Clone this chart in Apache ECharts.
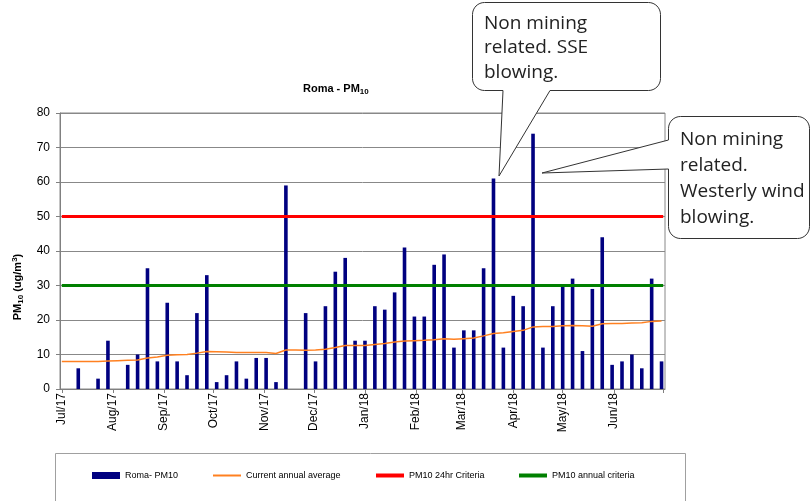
<!DOCTYPE html>
<html>
<head>
<meta charset="utf-8">
<script src="https://cdn.jsdelivr.net/npm/echarts@6/dist/echarts.min.js"></script>
<style>
html,body{margin:0;padding:0;background:#fff;}
#c{width:811px;height:501px;}
</style>
</head>
<body>
<div id="c"></div>
<script>
// ---- data ----
const sampleDates = [
  '2017-07-11','2017-07-17','2017-07-23','2017-07-29',
  '2017-08-04','2017-08-10','2017-08-16','2017-08-22','2017-08-28',
  '2017-09-03','2017-09-09','2017-09-15','2017-09-21','2017-09-27',
  '2017-10-03','2017-10-09','2017-10-15','2017-10-21','2017-10-27',
  '2017-11-02','2017-11-08','2017-11-14','2017-11-20','2017-11-26',
  '2017-12-02','2017-12-08','2017-12-14','2017-12-20','2017-12-26',
  '2018-01-01','2018-01-07','2018-01-13','2018-01-19','2018-01-25','2018-01-31',
  '2018-02-06','2018-02-12','2018-02-18','2018-02-24',
  '2018-03-02','2018-03-08','2018-03-14','2018-03-20','2018-03-26',
  '2018-04-01','2018-04-07','2018-04-13','2018-04-19','2018-04-25',
  '2018-05-01','2018-05-07','2018-05-13','2018-05-19','2018-05-25','2018-05-31',
  '2018-06-06','2018-06-12','2018-06-18','2018-06-24','2018-06-30'
];
const romaPM10 = [6,null,3,14,null,7,10,35,8,25,8,4,22,33,2,4,8,3,9,9,2,59,null,22,8,24,34,38,14,14,
  24,23,28,41,21,21,36,39,12,17,17,35,61,12,27,24,74,12,24,30,32,11,29,44,7,8,10,6,32,8];
const avgStartDate = '2017-07-01';
const avgStartValue = 8.0;
const annualAverage = [8.0,8.0,8.0,8.1,8.2,8.3,8.4,9.0,9.3,9.8,
  9.9,10.0,10.4,10.9,10.8,10.7,10.6,10.6,10.6,10.6,
  10.3,11.3,11.3,11.2,11.3,11.5,12.0,12.6,12.6,12.6,
  12.9,13.2,13.6,13.9,14.0,14.1,14.3,14.6,14.4,14.6,
  14.8,15.4,16.1,16.3,16.7,17.0,18.0,18.1,18.1,18.3,
  18.4,18.3,18.2,18.9,19.0,19.0,19.1,19.2,19.6,19.7];
const criteria24hr = 50;
const criteriaAnnual = 30;
const axisStart = '2017-07-01';
const axisEnd = '2018-07-01';
const monthNames = ['Jan','Feb','Mar','Apr','May','Jun','Jul','Aug','Sep','Oct','Nov','Dec'];
const seriesNames = ['Roma- PM10','Current annual average','PM10 24hr Criteria','PM10 annual criteria'];
const note1 = 'Non mining\nrelated. SSE\nblowing.';
const note2 = 'Non mining\nrelated.\nWesterly wind\nblowing.';

// ---- helpers ----
function toTime(s){ const p = s.split('-').map(Number); return new Date(p[0], p[1]-1, p[2]).getTime(); }
const tMin = toTime(axisStart), tMax = toTime(axisEnd);

function arc(pts, cx, cy, r, a0, a1){
  for (let k = 0; k <= 8; k++){ const a = a0 + (a1 - a0) * k / 8; pts.push([cx + r*Math.cos(a), cy + r*Math.sin(a)]); }
}
function bubbleBottom(x1,y1,x2,y2,r,p){
  const pts = [];
  arc(pts, x1+r, y1+r, r, Math.PI, 1.5*Math.PI);
  arc(pts, x2-r, y1+r, r, 1.5*Math.PI, 2*Math.PI);
  arc(pts, x2-r, y2-r, r, 0, 0.5*Math.PI);
  pts.push([p[0], y2], [p[1], p[2]], [p[3], y2]);
  arc(pts, x1+r, y2-r, r, 0.5*Math.PI, Math.PI);
  return pts;
}
function bubbleLeft(x1,y1,x2,y2,r,p){
  const pts = [];
  arc(pts, x1+r, y1+r, r, Math.PI, 1.5*Math.PI);
  arc(pts, x2-r, y1+r, r, 1.5*Math.PI, 2*Math.PI);
  arc(pts, x2-r, y2-r, r, 0, 0.5*Math.PI);
  arc(pts, x1+r, y2-r, r, 0.5*Math.PI, Math.PI);
  pts.push([x1, p[0]], [p[1], p[2]], [x1, p[3]]);
  return pts;
}

const FONT = 'Liberation Sans, Arial, sans-serif';
const chart = echarts.init(document.getElementById('c'), null, {renderer: 'canvas'});

const barData = sampleDates.map((d, i) => [toTime(d), romaPM10[i] == null ? '-' : romaPM10[i]]);
const avgData = [[toTime(avgStartDate), avgStartValue]].concat(sampleDates.map((d, i) => [toTime(d), annualAverage[i]]));

const legendBase = {
  top: 471, padding: 0, itemGap: 0, selectedMode: false,
  textStyle: {fontSize: 9, fontFamily: FONT, color: '#000'}
};

chart.setOption({
  animation: false,
  backgroundColor: '#fff',
  title: {
    text: '{a|Roma - PM}{b|10}',
    left: 298, top: 77,
    textStyle: {
      rich: {
        a: {fontSize: 11, fontWeight: 'bold', fontFamily: FONT, color: '#000', lineHeight: 14},
        b: {fontSize: 8, fontWeight: 'bold', fontFamily: FONT, color: '#000', lineHeight: 14, verticalAlign: 'bottom'}
      }
    }
  },
  grid: {left: 60, right: 146, top: 113, bottom: 112, show: true, borderColor: '#888', borderWidth: 1, containLabel: false},
  xAxis: {
    type: 'time', min: tMin, max: tMax,
    minInterval: 28*86400000, maxInterval: 31*86400000,
    axisLine: {lineStyle: {color: '#808080'}},
    axisTick: {show: true, length: 4, lineStyle: {color: '#808080'}},
    axisLabel: {
      rotate: 90, fontSize: 12, fontFamily: FONT, color: '#000', margin: 4,
      showMaxLabel: false, hideOverlap: false,
      formatter: function (v) {
        if (v >= tMax) return '';
        const d = new Date(v); return monthNames[d.getMonth()] + '/' + String(d.getFullYear()).slice(2);
      }
    },
    splitLine: {show: false}
  },
  yAxis: {
    type: 'value', min: 0, max: 80, interval: 10,
    axisLine: {show: true, lineStyle: {color: '#808080'}},
    axisTick: {show: true, length: 4, lineStyle: {color: '#808080'}},
    axisLabel: {fontSize: 12, fontFamily: FONT, color: '#000', margin: 10},
    splitLine: {lineStyle: {color: '#888', width: 1}}
  },
  legend: [
    Object.assign({}, legendBase, {left: 92, itemWidth: 28, itemHeight: 7, data: [{name: seriesNames[0], icon: 'rect'}]}),
    Object.assign({}, legendBase, {left: 213, itemWidth: 28, itemHeight: 2, data: [{name: seriesNames[1], icon: 'rect'}]}),
    Object.assign({}, legendBase, {left: 376, itemWidth: 28, itemHeight: 4, data: [{name: seriesNames[2], icon: 'rect'}]}),
    Object.assign({}, legendBase, {left: 519, itemWidth: 28, itemHeight: 4, data: [{name: seriesNames[3], icon: 'rect'}]})
  ],
  series: [
    {name: seriesNames[0], type: 'bar', barWidth: 3.6, data: barData, itemStyle: {color: '#000080'}},
    {name: seriesNames[1], type: 'line', data: avgData, symbol: 'none', itemStyle: {color: '#ff8020'}, lineStyle: {color: '#ff8020', width: 1.5}},
    {name: seriesNames[2], type: 'line', data: [[tMin, criteria24hr], [tMax, criteria24hr]], symbol: 'none', itemStyle: {color: '#ff0000'}, lineStyle: {color: '#ff0000', width: 3}},
    {name: seriesNames[3], type: 'line', data: [[tMin, criteriaAnnual], [tMax, criteriaAnnual]], symbol: 'none', itemStyle: {color: '#008000'}, lineStyle: {color: '#008000', width: 3}}
  ],
  graphic: [
    {type: 'rect', silent: true, shape: {x: 55.5, y: 453.5, width: 630, height: 60}, style: {fill: 'none', stroke: '#a0a0a0', lineWidth: 1}},
    {type: 'text', silent: true, x: 18, y: 287, rotation: Math.PI/2,
      style: {
        text: '{a|PM}{b|10}{a| (ug/m}{c|3}{a|)}', align: 'center', verticalAlign: 'middle',
        rich: {
          a: {fontSize: 11, fontWeight: 'bold', fontFamily: FONT, fill: '#000', lineHeight: 14},
          b: {fontSize: 8, fontWeight: 'bold', fontFamily: FONT, fill: '#000', lineHeight: 14, verticalAlign: 'bottom'},
          c: {fontSize: 8, fontWeight: 'bold', fontFamily: FONT, fill: '#000', lineHeight: 14, verticalAlign: 'top'}
        }
      }},
    {type: 'polygon', silent: true, z: 100, shape: {points: bubbleBottom(472.5, 2.5, 660.5, 90.5, 12, [550, 499, 176, 503])},
      style: {fill: '#fff', stroke: '#333', lineWidth: 1}},
    {type: 'text', silent: true, z: 101, x: 484, y: 11,
      style: {text: note1, fontSize: 19, fontFamily: 'Open Sans, sans-serif', fill: '#222', lineHeight: 24.5, verticalAlign: 'top'}},
    {type: 'polygon', silent: true, z: 100, shape: {points: bubbleLeft(668.5, 116.5, 809.5, 238.5, 12, [169, 542, 173, 140])},
      style: {fill: '#fff', stroke: '#333', lineWidth: 1}},
    {type: 'text', silent: true, z: 101, x: 680, y: 127,
      style: {text: note2, fontSize: 19, fontFamily: 'Open Sans, sans-serif', fill: '#222', lineHeight: 26, verticalAlign: 'top'}}
  ]
});
</script>
</body>
</html>
